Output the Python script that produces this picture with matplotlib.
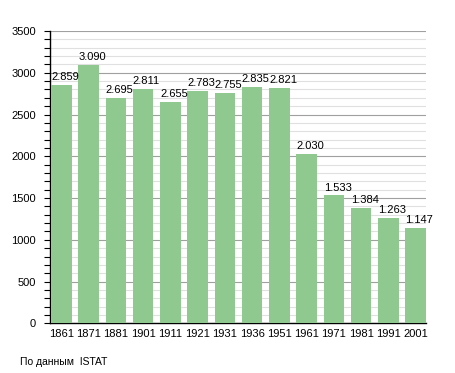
import matplotlib
matplotlib.use("Agg")
import matplotlib.pyplot as plt
from matplotlib.ticker import MultipleLocator

plt.rcParams['font.family'] = ['Liberation Sans', 'DejaVu Sans']

years = ['1861', '1871', '1881', '1901', '1911', '1921', '1931', '1936', '1951',
         '1961', '1971', '1981', '1991', '2001']
population = [2859, 3090, 2695, 2811, 2655, 2783, 2755, 2835, 2821,
              2030, 1533, 1384, 1263, 1147]
labels = ['2.859', '3.090', '2.695', '2.811', '2.655', '2.783', '2.755', '2.835', '2.821',
          '2.030', '1.533', '1.384', '1.263', '1.147']
source = 'По данным  ISTAT'

fig = plt.figure(figsize=(4.55, 3.73), dpi=100)
ax = fig.add_axes([0.110, 0.133, 0.826, 0.784])

w = 0.753
x = list(range(len(years)))
ax.bar(x, population, width=w, color='#90c990', zorder=3)
for xi, v, lab in zip(x, population, labels):
    ax.annotate(lab, (xi - w / 2, v), xytext=(0, 2), textcoords='offset points',
                ha='left', va='bottom', fontsize=8, zorder=4)

ax.set_xlim(-w / 2 - 0.04, len(years) - 1 + w / 2)
ax.set_ylim(0, 3500)
ax.yaxis.set_major_locator(MultipleLocator(500))
ax.yaxis.set_minor_locator(MultipleLocator(100))
ax.grid(which='major', axis='y', color='#a0a0a0', linewidth=0.8, zorder=0)
ax.grid(which='minor', axis='y', color='#e0e0e0', linewidth=0.8, zorder=0)
ax.set_xticks(x)
ax.set_xticklabels(years)
ax.tick_params(axis='x', length=0, labelsize=8, pad=4)
ax.tick_params(axis='y', which='both', length=4, width=0.8, labelsize=8, pad=6)
for s in ['top', 'right']:
    ax.spines[s].set_visible(False)
ax.spines['left'].set_linewidth(1)
ax.spines['bottom'].set_linewidth(1)

fig.text(20 / 455, 1 - 362 / 373, source, fontsize=7.5, va='center', ha='left')

fig.savefig('out.png', dpi=100)
